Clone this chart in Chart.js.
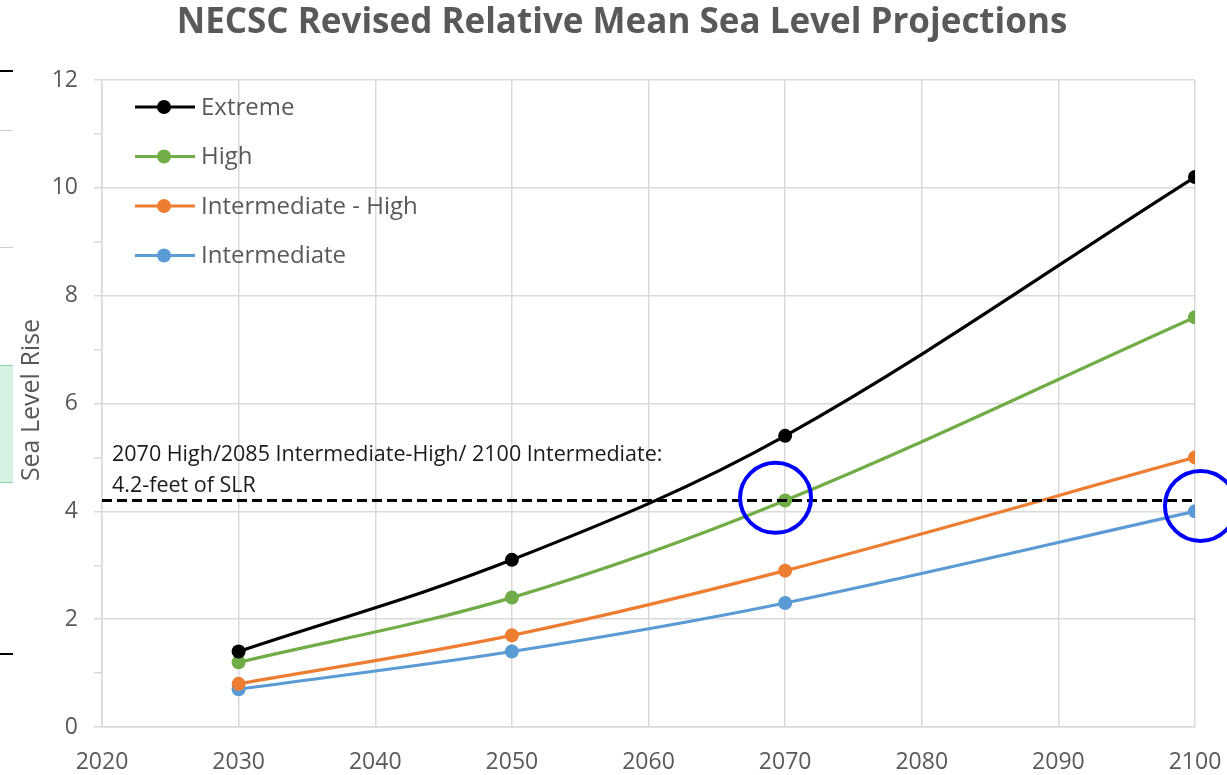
<!DOCTYPE html>
<html>
<head>
<meta charset="utf-8">
<title>NECSC Revised Relative Mean Sea Level Projections</title>
<script src="https://cdn.jsdelivr.net/npm/chart.js@4/dist/chart.umd.min.js"></script>
<style>
  html, body { margin: 0; padding: 0; background: #ffffff; }
  #wrap { position: relative; width: 1227px; height: 775px; }
  canvas { display: block; }
</style>
</head>
<body>
<div id="wrap"><canvas id="chart" width="1227" height="775"></canvas></div>
<script>
// Projection years and sea level rise (feet) for each scenario
const years = [2030, 2050, 2070, 2100];
const extreme = [1.4, 3.1, 5.4, 10.2];
const high = [1.2, 2.4, 4.2, 7.6];
const intermediateHigh = [0.8, 1.7, 2.9, 5.0];
const intermediate = [0.7, 1.4, 2.3, 4.0];

const seriesNames = ['Extreme', 'High', 'Intermediate - High', 'Intermediate'];
const seriesColors = ['#000000', '#70ad47', '#ed7d31', '#5b9bd5'];

// Reference threshold line (4.2 ft) spanning the axis range
const thresholdValue = 4.2;
const thresholdYears = [2020, 2100];
const thresholdNote = ['2070 High/2085 Intermediate-High/ 2100 Intermediate:', '4.2-feet of SLR'];

// Highlight rings around the points that reach the threshold
const ringYears = [2069.3, 2100.4];
const ringValues = [4.25, 4.1];

const titleText = 'NECSC Revised Relative Mean Sea Level Projections';
const yTitle = 'Sea Level Rise';

const FONT = '"Open Sans", Lato, sans-serif';
const TEXT_GRAY = '#595959';
const GRID = '#d9d9d9';

function toPoints(vals) { return years.map((y, i) => ({ x: y, y: vals[i] })); }
const allSeries = [extreme, high, intermediateHigh, intermediate];

const datasets = allSeries.map((vals, i) => ({
  label: seriesNames[i],
  data: toPoints(vals),
  borderColor: seriesColors[i],
  backgroundColor: seriesColors[i],
  borderWidth: 3.2,
  pointRadius: 7,
  pointHoverRadius: 7,
  pointBorderWidth: 0,
  tension: 0.35,
  order: 1
}));

datasets.push({
  label: 'threshold',
  data: thresholdYears.map(y => ({ x: y, y: thresholdValue })),
  borderColor: '#000000',
  borderWidth: 3,
  borderDash: [10, 5],
  pointRadius: 0,
  tension: 0,
  order: 0,
  clip: false
});

const decorPlugin = {
  id: 'decor',
  beforeDraw(chart) {
    const ctx = chart.ctx;
    ctx.save();
    ctx.fillStyle = '#ffffff';
    ctx.fillRect(0, 0, chart.width, chart.height);
    // fragments of the neighbouring sheet along the left edge
    ctx.fillStyle = '#d6f1e2';
    ctx.fillRect(0, 365, 13, 118);
    ctx.strokeStyle = '#8fd1ae';
    ctx.lineWidth = 1;
    ctx.beginPath();
    ctx.moveTo(0, 365.5); ctx.lineTo(13, 365.5);
    ctx.moveTo(0, 482.5); ctx.lineTo(13, 482.5);
    ctx.stroke();
    ctx.fillStyle = '#000000';
    ctx.fillRect(0, 70, 13, 2);
    ctx.fillRect(0, 653, 13, 2);
    ctx.fillStyle = '#cfcfcf';
    ctx.fillRect(0, 130, 13, 1);
    ctx.fillRect(0, 247, 13, 1);
    ctx.restore();
  },
  afterDraw(chart) {
    const ctx = chart.ctx;
    const area = chart.chartArea;
    const xs = chart.scales.x, ys = chart.scales.y;
    ctx.save();
    // title
    ctx.fillStyle = TEXT_GRAY;
    ctx.font = 'bold 35px ' + FONT;
    ctx.textAlign = 'center';
    ctx.textBaseline = 'middle';
    ctx.fillText(titleText, 622, 23);
    // y axis title
    ctx.save();
    ctx.translate(32, 400);
    ctx.rotate(-Math.PI / 2);
    ctx.font = '25px ' + FONT;
    ctx.fillText(yTitle, 0, 0);
    ctx.restore();
    // legend inside plot area
    ctx.textAlign = 'left';
    ctx.font = '24px ' + FONT;
    seriesNames.forEach((name, i) => {
      const y = area.top + 27 + i * 49.5;
      const x0 = area.left + 33;
      ctx.strokeStyle = seriesColors[i];
      ctx.lineWidth = 3.2;
      ctx.beginPath();
      ctx.moveTo(x0, y); ctx.lineTo(x0 + 60, y);
      ctx.stroke();
      ctx.fillStyle = seriesColors[i];
      ctx.beginPath();
      ctx.arc(x0 + 29, y, 7, 0, Math.PI * 2);
      ctx.fill();
      ctx.fillStyle = TEXT_GRAY;
      ctx.fillText(name, x0 + 66, y + 1);
    });
    // threshold note
    const ty = ys.getPixelForValue(thresholdValue);
    ctx.fillStyle = '#1a1a1a';
    ctx.font = '21.5px ' + FONT;
    ctx.textBaseline = 'middle';
    ctx.fillText(thresholdNote[0], area.left + 10, ty - 46);
    ctx.fillText(thresholdNote[1], area.left + 10, ty - 15);
    // highlight rings
    ctx.strokeStyle = '#0000ff';
    ctx.lineWidth = 4;
    ringYears.forEach((yr, i) => {
      ctx.beginPath();
      ctx.ellipse(xs.getPixelForValue(yr), ys.getPixelForValue(ringValues[i]), 35.5, 35, 0, 0, Math.PI * 2);
      ctx.stroke();
    });
    ctx.restore();
  }
};

new Chart(document.getElementById('chart'), {
  type: 'line',
  data: { datasets },
  options: {
    responsive: false,
    animation: false,
    devicePixelRatio: 1,
    layout: { padding: { top: 80, right: 32, bottom: 0, left: 0 } },
    plugins: {
      legend: { display: false },
      title: { display: false },
      tooltip: { enabled: false }
    },
    scales: {
      x: {
        type: 'linear',
        min: 2020,
        max: 2100,
        afterFit(scale) {
          scale.height = 48;
          scale.paddingLeft = 0;
          scale.paddingRight = 0;
        },
        ticks: {
          stepSize: 10,
          color: TEXT_GRAY,
          font: { family: FONT, size: 23 },
          padding: 22,
          maxRotation: 0,
          callback: v => String(v)
        },
        grid: { color: GRID, lineWidth: 1.5, drawTicks: false },
        border: { color: GRID, width: 1.5 }
      },
      y: {
        min: 0,
        max: 12,
        afterFit(scale) {
          scale.width = 102;
          scale.paddingTop = 0;
          scale.paddingBottom = 0;
        },
        ticks: {
          stepSize: 1,
          color: TEXT_GRAY,
          font: { family: FONT, size: 23 },
          padding: 16,
          callback: v => (v % 2 === 0 ? String(v) : '')
        },
        grid: {
          lineWidth: 1.5,
          tickLength: 8,
          color: ctx => (ctx.tick && ctx.tick.value % 2 === 0 ? GRID : 'rgba(0,0,0,0)'),
          tickColor: GRID
        },
        border: { color: GRID, width: 1.5 }
      }
    }
  },
  plugins: [decorPlugin]
});
</script>
</body>
</html>
